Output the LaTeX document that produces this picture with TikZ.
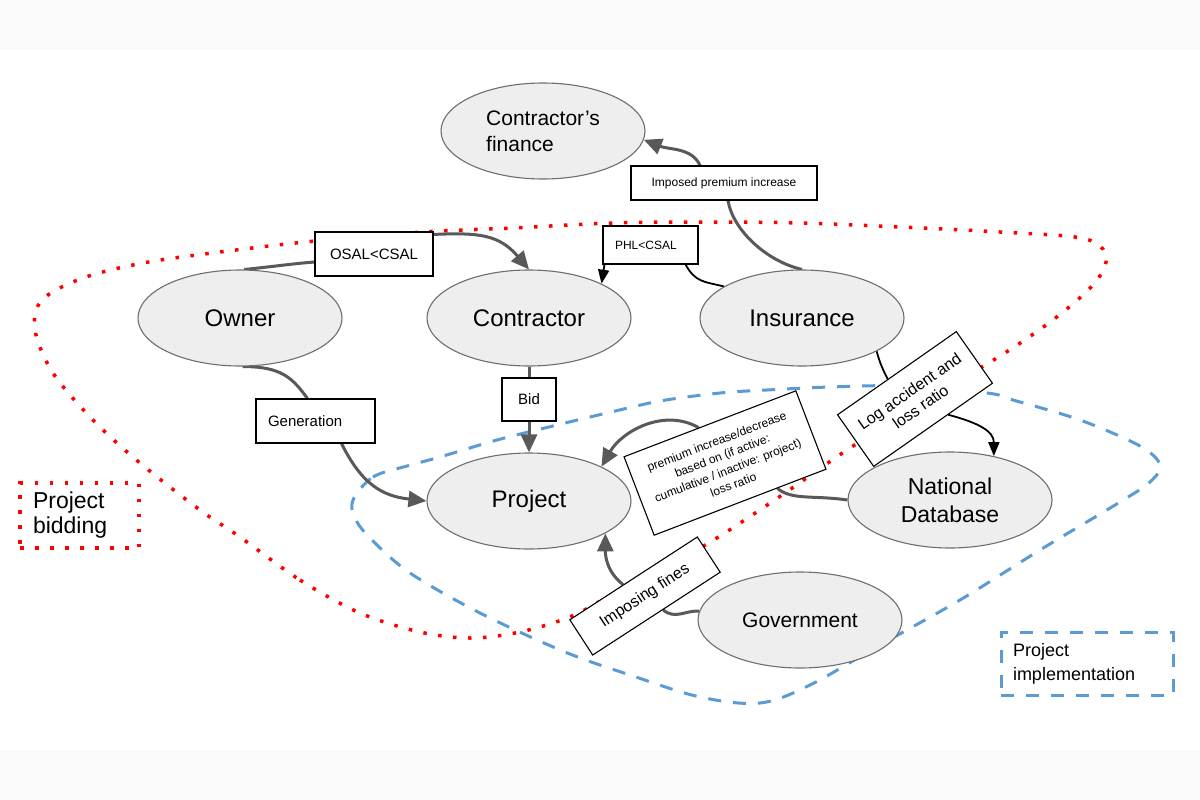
\documentclass[tikz,border=0pt]{standalone}
\usepackage{fontspec}
\setmainfont{Liberation Sans}
\usetikzlibrary{shapes.geometric,arrows.meta,calc}

\definecolor{ellfill}{HTML}{EEEEEE}
\definecolor{elldraw}{HTML}{6E6E6E}
\definecolor{arrgray}{HTML}{595959}
\definecolor{regred}{HTML}{FF0000}
\definecolor{regblue}{HTML}{5B9BD5}
\definecolor{band}{HTML}{FBFAFB}

\pgfdeclarelayer{regions}
\pgfdeclarelayer{links}
\pgfsetlayers{regions,links,main}

\tikzset{
  ent/.style={ellipse, draw=elldraw, fill=ellfill, line width=1.1pt, minimum width=204pt, minimum height=96pt, inner sep=0pt, font=\fontsize{24}{28}\selectfont},
  lbl/.style={draw=black, fill=white, line width=1.1pt, inner sep=0pt},
  garrow/.style={draw=arrgray, line width=3pt, -{Triangle[length=18pt,width=16pt]}},
  gline/.style={draw=arrgray, line width=3pt},
  barrow/.style={draw=black, line width=1.8pt, -{Triangle[length=14pt,width=11pt]}},
  bline/.style={draw=black, line width=1.8pt},
  redreg/.style={draw=regred, line width=3.5pt, dash pattern=on 3.5pt off 11.5pt},
  bluereg/.style={draw=regblue, line width=3pt, dash pattern=on 13pt off 12pt},
}

\begin{document}
\begin{tikzpicture}[x=1pt,y=-1pt]
\useasboundingbox (0,0) rectangle (1200,800);

% entities
\node[ent, align=left, font=\fontsize{21}{26}\selectfont] (finance) at (543,131) {Contractor’s\\finance};
\node[ent] (owner) at (240,318) {Owner};
\node[ent] (contractor) at (529,318) {Contractor};
\node[ent] (insurance) at (802,318) {Insurance};
\node[ent] (project) at (529,501) {Project};
\node[ent, align=center, font=\fontsize{23}{28}\selectfont] (natdb) at (950,500) {National\\Database};
\node[ent, font=\fontsize{21}{25}\selectfont] (gov) at (800,620) {Government};

% label boxes
\node[lbl, minimum width=118pt, minimum height=44pt, font=\fontsize{15}{18}\selectfont] (osal) at (374,254) {OSAL<CSAL};
\node[lbl, minimum height=38pt, text width=71pt, inner xsep=12pt, align=left, font=\fontsize{12}{14}\selectfont] (phl) at (650.5,245) {PHL<CSAL};
\node[lbl, minimum width=186pt, minimum height=34pt, font=\fontsize{12}{14}\selectfont] (imposed) at (724,183) {Imposed premium increase};
\node[lbl, minimum height=44pt, text width=95pt, inner xsep=12pt, align=left, font=\fontsize{15}{18}\selectfont] (gen) at (315.5,421) {Generation};
\node[lbl, minimum width=54pt, minimum height=43pt, font=\fontsize{15}{18}\selectfont] (bid) at (529,399.5) {Bid};
\node[lbl, rotate=21, minimum width=184pt, minimum height=84pt, align=center, font=\fontsize{12}{15.5}\selectfont] (pbox) at (725,463) {premium increase/decrease\\based on (if active:\\cumulative / inactive: project)\\loss ratio};
\node[lbl, rotate=35, minimum width=145pt, minimum height=63pt, align=center, font=\fontsize{16}{19}\selectfont] (logbox) at (915,399) {Log accident and\\loss ratio};
\node[lbl, rotate=33, minimum width=152pt, minimum height=42pt, font=\fontsize{16}{19}\selectfont] (fines) at (645,596) {Imposing fines};

% legends
\node[redreg, fill=white, minimum height=65pt, text width=93pt, inner xsep=13pt, inner ysep=0pt, align=left, font=\fontsize{23}{25}\selectfont] (bidleg) at (79.5,515.5) {Project\\bidding};
\node[bluereg, fill=white, minimum height=63pt, text width=148pt, inner xsep=12pt, inner ysep=0pt, align=left, font=\fontsize{18}{24}\selectfont] (implleg) at (1087,663.5) {Project\\implementation};

\begin{pgfonlayer}{regions}
\fill[white] (0,0) rectangle (1200,800);
\fill[band] (0,0) rectangle (1200,50);
\fill[band] (0,750) rectangle (1200,800);
\draw[redreg] plot[smooth cycle, tension=0.55] coordinates {
 (240,537) (300,580) (360,613) (420,632) (470,638) (520,632) (572,616) (620,590)
 (670,565) (720,536) (785,493) (850,448) (930,398) (1008,351) (1058,316) (1093,285)
 (1106,262) (1100,246) (1075,237) (1000,232) (900,227) (800,223) (713,222) (613,223)
 (513,228) (423,232) (315,241) (220,252) (143,263) (83,278) (42,300) (35,330)
 (53,373) (93,420) (140,463) (200,510)};
\draw[bluereg] plot[smooth cycle, tension=0.55] coordinates {
 (353,500) (373,477) (407,466) (440,457) (497,440) (557,425) (607,413) (660,401)
 (720,393) (767,390) (830,387) (900,386) (987,393) (1013,400) (1080,420) (1140,446)
 (1160,465) (1150,482) (1120,502) (1040,550) (960,600) (880,645) (810,685) (760,703)
 (700,697) (630,675) (565,652) (480,613) (410,573) (370,538) (355,518)};
\end{pgfonlayer}

\begin{pgfonlayer}{links}
\draw[gline] (owner.85) .. controls +(30,-3) and +(-25,2) .. ([yshift=-8pt]osal.west);
\draw[garrow] ([yshift=-3pt]osal.north east) .. controls +(45,-2) and +(-30,-35) .. (contractor.north);
\draw[gline] (owner.273) .. controls +(40,0) and +(-15,-20) .. ([xshift=-8pt]gen.north);
\draw[garrow] ([xshift=26pt]gen.south) .. controls +(20,40) and +(-45,-5) .. (project.west);
\draw[gline] (contractor.south) -- (bid.north);
\draw[garrow] (bid.south) -- (project.north);
\draw[bline] ([xshift=-13pt]phl.south east) .. controls +(10,18) and +(-20,-5) .. (insurance.158);
\draw[barrow] ([xshift=2pt]phl.south west) -- (contractor.north east);
\draw[gline] (insurance.north) .. controls +(-35,-8) and +(5,30) .. ([xshift=4pt]imposed.south);
\draw[garrow] ([xshift=-24pt]imposed.north) .. controls +(-8,-18) and +(25,10) .. (finance.355);
\draw[gline] ($(pbox.south)!0.43!(pbox.south east)$) .. controls +(15,12) and +(-35,-5) .. (natdb.west);
\draw[garrow] ($(pbox.north)!0.13!(pbox.north west)$) .. controls +(-35,-20) and +(20,-35) .. (project.north east);
\draw[bline] (insurance.336) .. controls +(3,12) and +(-4,-8) .. ($(logbox.north)!0.15!(logbox.north west)$);
\draw[barrow] ($(logbox.south)!0.25!(logbox.south east)$) .. controls +(30,8) and +(0,-25) .. (natdb.45);
\draw[gline] ($(fines.south)!0.1!(fines.south east)$) .. controls +(12,10) and +(-14,-1) .. (gov.175);
\draw[garrow] ($(fines.north)!0.16!(fines.north west)$) .. controls +(-15,-12) and +(0,25) .. (project.337);
\end{pgfonlayer}
\end{tikzpicture}
\end{document}
